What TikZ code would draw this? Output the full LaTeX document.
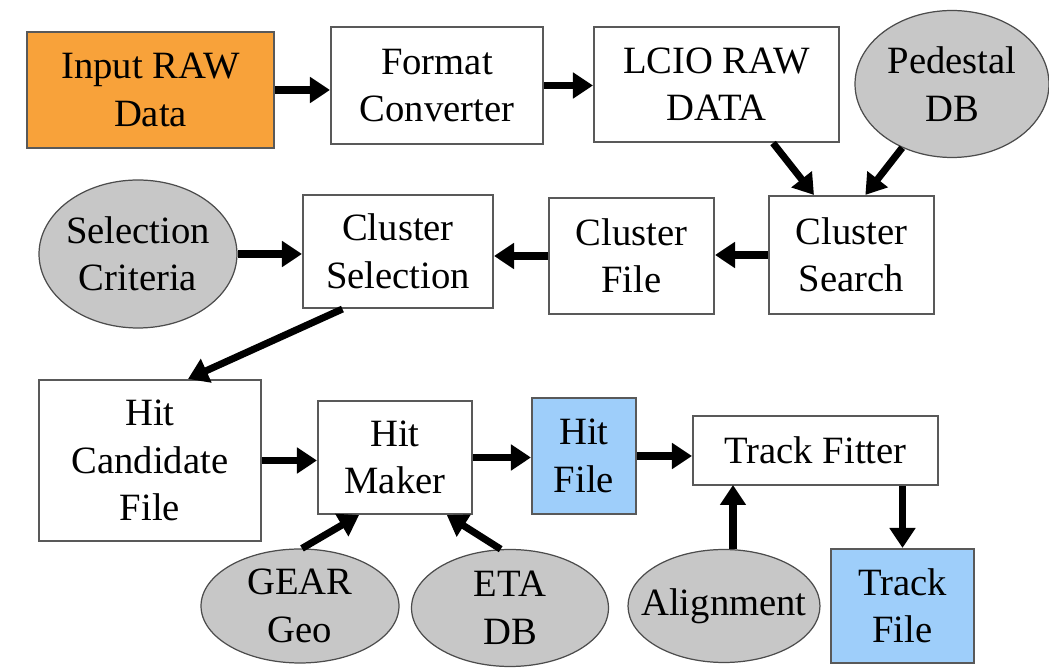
\documentclass[tikz,border=0pt]{standalone}
\usepackage{fontspec}
\setmainfont{Liberation Serif}
\usetikzlibrary{shapes.geometric,arrows.meta}

\begin{document}
\begin{tikzpicture}[x=0.02cm, y=-0.02cm,
        caja/.style={draw=black!65, line width=1.2pt, fill=white, align=center, inner sep=0pt, font=\fontsize{22}{27}\selectfont},
        base/.style={ellipse, draw=black!70, line width=0.7pt, fill=black!22, align=center, inner xsep=-0.4cm, inner ysep=0pt, font=\fontsize{22}{27}\selectfont},
        flujo/.style={line width=4pt, -{Triangle[length=0.4cm, width=0.5cm]}}]
        \definecolor{naranja}{RGB}{248,162,58}
        \definecolor{celeste}{RGB}{158,206,250}
        \fill[white] (0,0) rectangle (1049,668);
        \useasboundingbox (0,0) rectangle (1049,668);
        % first row
        \node[caja, fill=naranja, minimum width=4.94cm, minimum height=2.32cm] (input) at (150.5,90) {Input RAW\\Data};
        \node[caja, minimum width=4.24cm, minimum height=2.34cm] (format) at (437,85.5) {Format\\Converter};
        \node[caja, minimum width=4.9cm, minimum height=2.3cm] (lcio) at (716.5,84.5) {LCIO RAW\\DATA};
        \node[base, minimum width=3.88cm, minimum height=2.94cm] (pedestal) at (952,84) {Pedestal\\DB};
        % second row
        \node[caja, minimum width=3.3cm, minimum height=2.36cm] (csearch) at (851.5,255) {Cluster\\Search};
        \node[caja, minimum width=3.3cm, minimum height=2.32cm] (cfile) at (631.5,256) {Cluster\\File};
        \node[caja, minimum width=3.8cm, minimum height=2.26cm] (csel) at (398,251.5) {Cluster\\Selection};
        \node[base, minimum width=3.96cm, minimum height=2.96cm] (selcrit) at (138,254) {Selection\\Criteria};
        % third row
        \node[caja, minimum width=4.44cm, minimum height=3.22cm] (hitcand) at (150,460.5) {Hit\\Candidate\\File};
        \node[caja, minimum width=3.08cm, minimum height=2.26cm] (hitmaker) at (395,457.5) {Hit\\Maker};
        \node[caja, fill=celeste, minimum width=2.08cm, minimum height=2.32cm] (hitfile) at (584,456) {Hit\\File};
        \node[caja, minimum width=4.9cm, minimum height=1.38cm] (fitter) at (815.5,450.5) {Track Fitter};
        % bottom row
        \node[caja, fill=celeste, minimum width=2.86cm, minimum height=2.28cm] (trackfile) at (902.5,606) {Track\\File};
        \node[base, minimum width=3.96cm, minimum height=2.28cm] (gear) at (300,606) {GEAR\\Geo};
        \node[base, minimum width=3.94cm, minimum height=2.34cm] (eta) at (510,608) {ETA\\DB};
        \node[base, minimum width=3.84cm, minimum height=2.26cm] (align) at (724,606) {Alignment};
        \coordinate (alin) at (733,485);

        \draw[flujo] (input.east) -- (input.east -| format.west);
        \draw[flujo] (format.east) -- (format.east -| lcio.west);
        \draw[flujo] (lcio.-46) -- (csearch.122);
        \draw[flujo] (pedestal.232) -- (csearch.77);
        \draw[flujo] (csearch.west) -- (csearch.west -| cfile.east);
        \draw[flujo] (cfile.west) -- (cfile.west -| csel.east);
        \draw[flujo] (selcrit.east) -- (selcrit.east -| csel.west);
        \draw[flujo] (csel.226) -- (hitcand.65);
        \draw[flujo] (hitcand.east) -- (hitcand.east -| hitmaker.west);
        \draw[flujo] (hitmaker.east) -- (hitmaker.east -| hitfile.west);
        \draw[flujo] (hitfile.east) -- (hitfile.east -| fitter.west);
        \draw[flujo] (gear.88) -- (hitmaker.238);
        \draw[flujo] (eta.99) -- (hitmaker.-48);
        \draw[flujo] (align.north -| alin) -- (alin);
        \draw[flujo] (fitter.south -| trackfile.north) -- (trackfile.north);
    \end{tikzpicture}
\end{document}
